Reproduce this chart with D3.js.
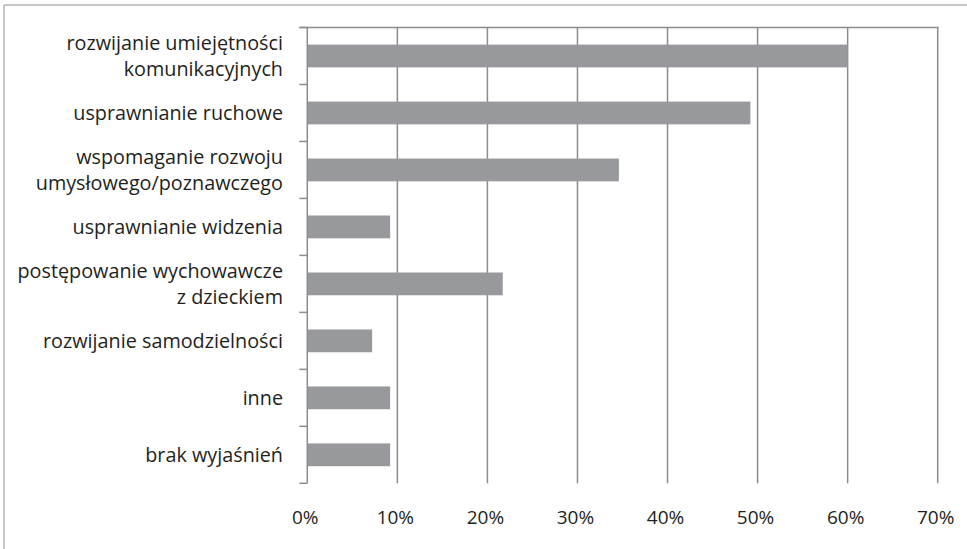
<!DOCTYPE html>
<html>
<head>
<meta charset="utf-8">
<script src="https://cdn.jsdelivr.net/npm/d3@7"></script>
<style>
  body { margin: 0; background: #fff; }
  text { font-family: "Open Sans", sans-serif; fill: #231f20; }
</style>
</head>
<body>
<div id="chart"></div>
<script>
// categories (line breaks as in the original) and their shares
const categories = [
  "rozwijanie umiejętności\nkomunikacyjnych",
  "usprawnianie ruchowe",
  "wspomaganie rozwoju\numysłowego/poznawczego",
  "usprawnianie widzenia",
  "postępowanie wychowawcze\nz dzieckiem",
  "rozwijanie samodzielności",
  "inne",
  "brak wyjaśnień"
];
const values = [0.60, 0.492, 0.346, 0.092, 0.217, 0.072, 0.092, 0.092];
const tickValues = [0, 0.1, 0.2, 0.3, 0.4, 0.5, 0.6, 0.7];
const tickLabels = ["0%", "10%", "20%", "30%", "40%", "50%", "60%", "70%"];

const width = 967, height = 549;
const margin = {top: 27.5, left: 307.3, right: 29.3, bottom: 65.7};

const svg = d3.select("#chart").append("svg")
  .attr("width", width)
  .attr("height", height);

// outer frame (only top and left edges visible)
svg.append("line")
  .attr("x1", 4).attr("x2", width).attr("y1", 5).attr("y2", 5)
  .attr("stroke", "#b4b4b6").attr("stroke-width", 1.5);
svg.append("line")
  .attr("x1", 4).attr("x2", 4).attr("y1", 5).attr("y2", height)
  .attr("stroke", "#b4b4b6").attr("stroke-width", 1.5);

const x = d3.scaleLinear()
  .domain([0, 0.7])
  .range([margin.left, width - margin.right]);

const y = d3.scaleBand()
  .domain(categories)
  .range([margin.top, height - margin.bottom])
  .paddingInner(0.6)
  .paddingOuter(0.3);

const gridColor = "#8c8c8f";

// vertical gridlines
svg.append("g")
  .selectAll("line")
  .data(tickValues.slice(1))
  .join("line")
  .attr("x1", d => x(d)).attr("x2", d => x(d))
  .attr("y1", margin.top).attr("y2", height - margin.bottom)
  .attr("stroke", gridColor).attr("stroke-width", 1.5);

// top line
svg.append("line")
  .attr("x1", margin.left - 8).attr("x2", x(0.7) + 1)
  .attr("y1", margin.top).attr("y2", margin.top)
  .attr("stroke", gridColor).attr("stroke-width", 1.5);

// bars
svg.append("g")
  .selectAll("rect")
  .data(values)
  .join("rect")
  .attr("x", x(0))
  .attr("y", (d, i) => y(categories[i]))
  .attr("width", d => x(d) - x(0))
  .attr("height", y.bandwidth())
  .attr("fill", "#98999c");

// category axis with ticks between categories
const step = y.step();
const yAxis = svg.append("g");
yAxis.append("line")
  .attr("x1", margin.left).attr("x2", margin.left)
  .attr("y1", margin.top).attr("y2", height - margin.bottom)
  .attr("stroke", gridColor).attr("stroke-width", 1.5);
yAxis.selectAll(".tk")
  .data(d3.range(categories.length + 1))
  .join("line")
  .attr("class", "tk")
  .attr("x1", margin.left - 8).attr("x2", margin.left)
  .attr("y1", i => margin.top + i * step)
  .attr("y2", i => margin.top + i * step)
  .attr("stroke", gridColor).attr("stroke-width", 1.5);

// category labels
const lineH = 26;
const labels = svg.append("g")
  .selectAll("text")
  .data(categories)
  .join("text")
  .attr("text-anchor", "end")
  .attr("font-size", 19.8)
  .attr("transform", d => `translate(283,${y(d) + y.bandwidth() / 2})`);
labels.each(function(d) {
  const lines = d.split("\n");
  const t = d3.select(this);
  lines.forEach((ln, k) => {
    t.append("tspan")
      .attr("x", 0)
      .attr("y", (k - (lines.length - 1) / 2) * lineH)
      .attr("dy", "0.35em")
      .text(ln);
  });
});

// value axis labels
svg.append("g")
  .selectAll("text")
  .data(tickValues)
  .join("text")
  .attr("x", d => x(d) - 2)
  .attr("y", 517)
  .attr("dy", "0.35em")
  .attr("text-anchor", "middle")
  .attr("font-size", 19)
  .text((d, i) => tickLabels[i]);
</script>
</body>
</html>
